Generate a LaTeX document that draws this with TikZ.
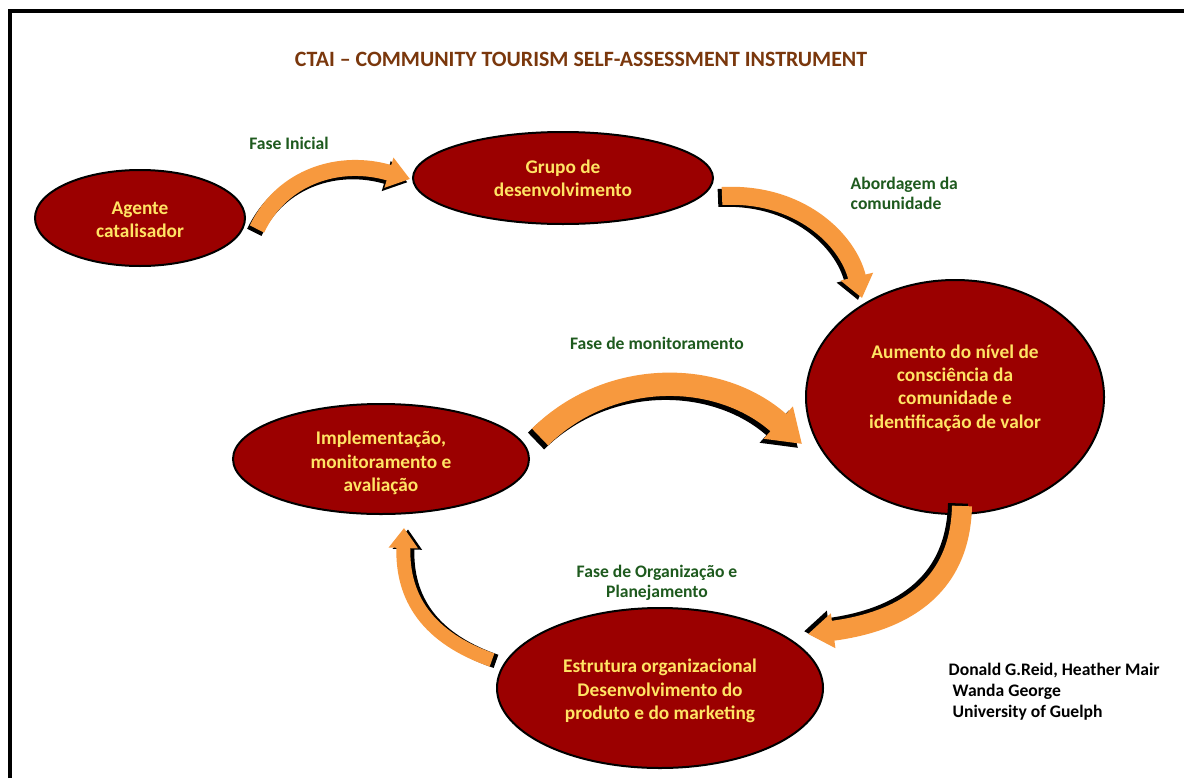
\documentclass[tikz,border=0pt]{standalone}
\usepackage{fontspec}
\setmainfont{Carlito}
\usetikzlibrary{shapes.geometric,arrows.meta}
\definecolor{ered}{RGB}{155,0,0}
\definecolor{etext}{RGB}{255,228,100}
\definecolor{bandc}{RGB}{247,153,62}
\definecolor{lgreen}{RGB}{30,90,30}
\definecolor{titlec}{RGB}{122,55,12}
\begin{document}
\begin{tikzpicture}[x=0.75pt,y=-0.75pt,
  stage/.style={ellipse, draw=black, line width=1.5pt, fill=ered, inner sep=0pt},
  stagetext/.style={text=etext, font=\bfseries\fontsize{14.5}{17.5}\selectfont, align=center, inner sep=0pt},
  phase/.style={text=lgreen, font=\bfseries\fontsize{13.2}{15}\selectfont, align=center},
  bandarrow/.style n args={3}{draw=bandc, line width=#1, -{Triangle[length=#3,width=#2]}},
  bandshadow/.style n args={3}{draw=black, line width=#1, -{Triangle[length=#3,width=#2]}},
  frameline/.style={line width=3pt}]
\useasboundingbox (0,0) rectangle (1184,778);
\fill[white] (0,0) rectangle (1184,778);
\coordinate (fbl) at (10,778);
\coordinate (ftl) at (10,11);
\coordinate (ftr) at (1184,11);
\draw[frameline] (fbl) -- (ftl) -- (ftr);

\node[text=titlec, font=\bfseries\fontsize{16.4}{19}\selectfont] (title) at (581,59) {CTAI – COMMUNITY TOURISM SELF-ASSESSMENT INSTRUMENT};

% stages
\node[stage, minimum width=157.5pt, minimum height=72pt] (agente) at (140,218) {};
\node[stage, minimum width=225pt, minimum height=69pt] (grupo) at (563,178) {};
\node[stage, minimum width=223.5pt, minimum height=175.5pt] (aumento) at (955,397) {};
\node[stage, minimum width=222pt, minimum height=82.5pt] (impl) at (381,459) {};
\node[stage, minimum width=244.5pt, minimum height=120pt] (estr) at (660,688) {};

\node[stagetext] (agentetxt) at (140,220) {Agente\\catalisador};
\node[stagetext] (grupotxt) at (563,178) {Grupo de\\desenvolvimento};
\node[stagetext] (aumentotxt) at (955,388) {Aumento do nível de\\consciência da\\comunidade e\\identificação de valor};
\node[stagetext] (impltxt) at (381,463) {Implementação,\\monitoramento e\\avaliação};
\node[stagetext] (estrtxt) at (660,691) {Estrutura organizacional\\Desenvolvimento do\\produto e do marketing};

% phase labels
\node[phase] (l1) at (289,143) {Fase Inicial};
\node[phase, align=left, anchor=west] (l2) at (846,193) {Abordagem da\\comunidade};
\node[phase] (l3) at (657,343) {Fase de monitoramento};
\node[phase] (l4) at (657,583) {Fase de Organização e\\Planejamento};

\node[font=\bfseries\fontsize{13.2}{15.7}\selectfont, align=left, anchor=west] (authors) at (944,692)
  {Donald G.Reid, Heather Mair\\\hspace{3pt}Wanda George\\\hspace{3pt}University of Guelph};

% arrow end points
\coordinate (a1s) at (257,229); \coordinate (a1e) at (410,179);
\coordinate (a2s) at (722,196); \coordinate (a2e) at (862,298);
\coordinate (a3s) at (540,437); \coordinate (a3e) at (802,444);
\coordinate (a4s) at (962,506); \coordinate (a4e) at (808,634);
\coordinate (a5s) at (492,660); \coordinate (a5e) at (404,528);

% shadows
\draw[bandshadow={12pt}{22.5pt}{16.5pt}, transform canvas={xshift=-2pt,yshift=-2.5pt}]
  (a1s) .. controls (282,176) and (340,158) .. (a1e);
\draw[bandshadow={13.5pt}{24pt}{16.5pt}, transform canvas={xshift=-3pt,yshift=-1.5pt}]
  (a2s) .. controls (800,192) and (848,240) .. (a2e);
\draw[bandshadow={17.5pt}{31pt}{24pt}, transform canvas={xshift=-3pt,yshift=-3pt}]
  (a3s) .. controls (610,368) and (720,370) .. (a3e);
\draw[bandshadow={15pt}{25pt}{19pt}, transform canvas={xshift=-3pt,yshift=2pt}]
  (a4s) .. controls (960,590) and (900,622) .. (a4e);
\draw[bandshadow={10.5pt}{21pt}{15pt}, transform canvas={xshift=3pt,yshift=-1pt}]
  (a5s) .. controls (420,635) and (402,590) .. (a5e);

% orange arrows
\draw[bandarrow={12pt}{22.5pt}{16.5pt}] (a1s) .. controls (282,176) and (340,158) .. (a1e);
\draw[bandarrow={13.5pt}{24pt}{16.5pt}] (a2s) .. controls (800,192) and (848,240) .. (a2e);
\draw[bandarrow={17.5pt}{31pt}{24pt}] (a3s) .. controls (610,368) and (720,370) .. (a3e);
\draw[bandarrow={15pt}{25pt}{19pt}] (a4s) .. controls (960,590) and (900,622) .. (a4e);
\draw[bandarrow={10.5pt}{21pt}{15pt}] (a5s) .. controls (420,635) and (402,590) .. (a5e);
\end{tikzpicture}
\end{document}
